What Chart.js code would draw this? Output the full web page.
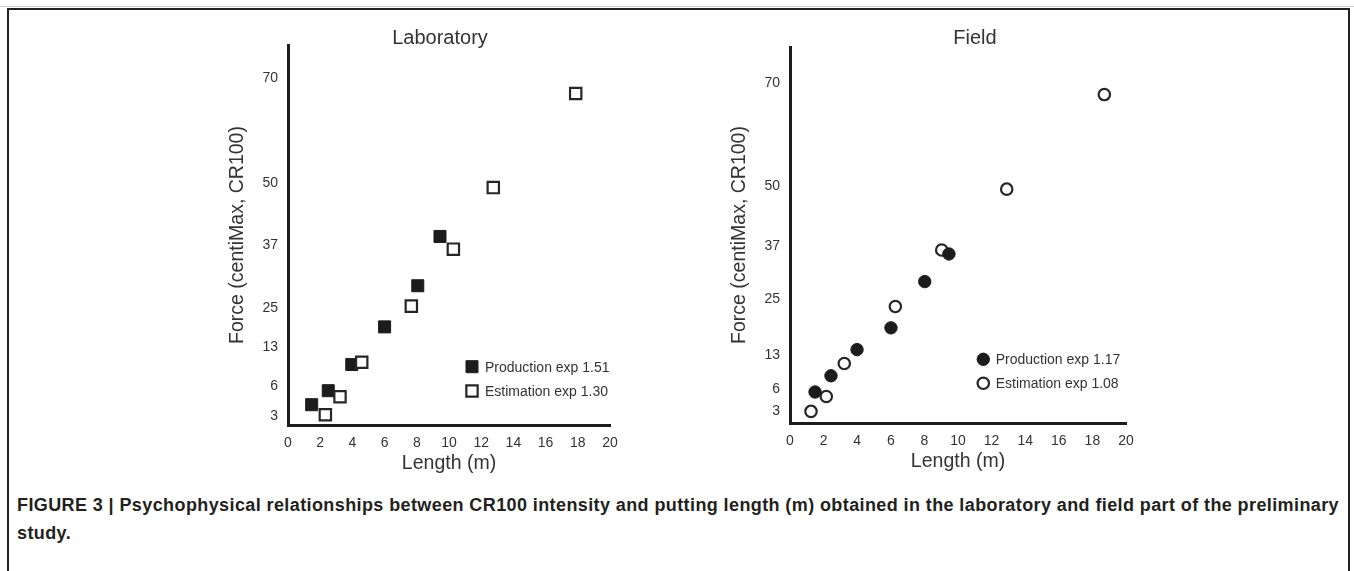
<!DOCTYPE html>
<html>
<head>
<meta charset="utf-8">
<script src="https://cdn.jsdelivr.net/npm/chart.js@4.4.1/dist/chart.umd.min.js"></script>
<style>
  html, body { margin: 0; padding: 0; background: #fff; overflow: hidden; }
  body { width: 1354px; height: 571px; position: relative; font-family: "Liberation Sans", Arial, sans-serif; }
  .rule { position: absolute; left: 0; top: 6px; width: 1354px; height: 1px; background: #d0d0d0; }
  .frame { position: absolute; left: 7px; top: 8px; width: 1339px; height: 620px; border: 2px solid #222; }
  canvas { position: absolute; }
  #lab { left: 180px; top: 15px; }
  #field { left: 682px; top: 15px; }
  .caption { position: absolute; left: 17px; top: 491px; font-weight: bold; font-size: 18px; letter-spacing: 0.4px; line-height: 28px; color: #231f20; white-space: nowrap; }
</style>
</head>
<body>
<div class="rule"></div>
<div class="frame"></div>
<canvas id="lab" width="470" height="470"></canvas>
<canvas id="field" width="484" height="468"></canvas>
<div class="caption">FIGURE 3 | Psychophysical relationships between CR100 intensity and putting length (m) obtained in the laboratory and field part of the preliminary<br>study.</div>
<script>
// tick labels of the force axis (CR100)
const forceTicks = [3, 6, 13, 25, 37, 50, 70];

// Laboratory
const labProdLength = [1.47, 2.5, 3.96, 6.0, 8.06, 9.44];
const labProdForce  = [4.1, 5.5, 9.8, 19.1, 29.2, 38.8];
const labEstLength  = [2.32, 3.23, 4.58, 7.66, 10.27, 12.75, 17.87];
const labEstForce   = [3.1, 4.9, 10.2, 25.3, 36.2, 49.1, 67.1];

// Field
const fieldProdLength = [1.49, 2.44, 3.99, 6.01, 8.02, 9.46];
const fieldProdForce  = [5.6, 8.7, 14.1, 18.8, 29.0, 35.3];
const fieldEstLength  = [1.25, 2.16, 3.23, 6.27, 9.03, 12.9, 18.71];
const fieldEstForce   = [3.0, 5.0, 11.2, 23.4, 36.2, 49.3, 67.8];

const ink = '#1c1c1c';
const textColor = '#333';
const fontFamily = '"Liberation Sans", Arial, sans-serif';

function pts(xs, ys) {
  return xs.map((x, i) => ({x: x, y: ys[i]}));
}

// the CR100 axis in the figure is not evenly spaced: ticks sit at fixed spots
class AnchoredScale extends Chart.LinearScale {
  static id = 'anchored';
  _frac(v) {
    const s = this.options.anchors;
    let i = 1;
    while (i < s.length - 1 && v > s[i][0]) i++;
    const a = s[i - 1], b = s[i];
    return a[1] + (v - a[0]) * (b[1] - a[1]) / (b[0] - a[0]);
  }
  getPixelForValue(v) {
    if (v === null || v === undefined) return NaN;
    return this.getPixelForDecimal(this._frac(v));
  }
  getValueForPixel(p) {
    const d = this.getDecimalForPixel(p);
    const s = this.options.anchors;
    let i = 1;
    while (i < s.length - 1 && d > s[i][1]) i++;
    const a = s[i - 1], b = s[i];
    return a[0] + (d - a[1]) * (b[0] - a[0]) / (b[1] - a[1]);
  }
}
Chart.register(AnchoredScale);

// panel title + legend inside the plot
const panelDecor = {
  id: 'panelDecor',
  afterDraw(chart, args, o) {
    const ctx = chart.ctx, area = chart.chartArea;
    ctx.save();
    ctx.fillStyle = textColor;
    ctx.font = '20px ' + fontFamily;
    ctx.textAlign = 'center';
    ctx.textBaseline = 'alphabetic';
    ctx.fillText(o.title, o.titleX, o.titleY);

    ctx.font = '14px ' + fontFamily;
    ctx.textAlign = 'left';
    ctx.textBaseline = 'middle';
    chart.data.datasets.forEach((ds, i) => {
      const x = area.left + o.legendX;
      const y = area.top + o.legendY + i * o.legendGap;
      ctx.fillStyle = ds.backgroundColor;
      ctx.strokeStyle = ds.borderColor;
      ctx.lineWidth = ds.borderWidth;
      Chart.helpers.drawPoint(ctx, {pointStyle: ds.pointStyle, radius: ds.pointRadius, borderWidth: ds.borderWidth, rotation: 0}, x, y);
      ctx.fillStyle = textColor;
      ctx.fillText(ds.label, x + o.legendTextGap, y + 1);
    });
    ctx.restore();
  }
};

function makeOptions(anchors, yMax, decor) {
  return {
    responsive: false,
    animation: false,
    layout: {padding: {left: 0, top: decor.padTop, right: 40, bottom: 0}},
    plugins: {
      legend: {display: false},
      tooltip: {enabled: false},
      panelDecor: decor
    },
    scales: {
      x: {
        type: 'linear',
        min: 0,
        max: 20,
        grid: {display: false, drawTicks: false},
        border: {color: ink, width: 3},
        ticks: {stepSize: 2, padding: 10, color: textColor, font: {size: 14, family: fontFamily}},
        title: {display: true, text: 'Length (m)', color: textColor, padding: {top: 0, bottom: 10}, font: {size: 19.5, family: fontFamily}},
        afterFit: s => { s.height = 60; }
      },
      y: {
        type: 'anchored',
        anchors: anchors,
        min: 0,
        max: yMax,
        grid: {display: false, drawTicks: false},
        border: {color: ink, width: 3},
        ticks: {padding: 10, color: textColor, font: {size: 14, family: fontFamily}, callback: v => String(v)},
        afterBuildTicks: s => { s.ticks = forceTicks.map(v => ({value: v})); },
        title: {display: true, text: 'Force (centiMax, CR100)', color: textColor, padding: {top: 46, bottom: 0}, font: {size: 19.5, family: fontFamily}},
        afterFit: s => { s.width = 108; }
      }
    }
  };
}

function filled(label, data, style, radius, order) {
  return {label: label, data: data, pointStyle: style, pointRadius: radius, pointHoverRadius: radius,
          backgroundColor: ink, borderColor: ink, borderWidth: 1, order: order};
}
function open(label, data, style, radius, order) {
  return {label: label, data: data, pointStyle: style, pointRadius: radius, pointHoverRadius: radius,
          backgroundColor: '#fff', borderColor: '#262626', borderWidth: 2.2, order: order};
}

new Chart(document.getElementById('lab'), {
  type: 'scatter',
  data: {
    datasets: [
      filled('Production exp 1.51', pts(labProdLength, labProdForce), 'rect', 8.5, 2),
      open('Estimation exp 1.30', pts(labEstLength, labEstForce), 'rect', 8.0, 1)
    ]
  },
  options: makeOptions(
    [[0, 0], [3, 0.0245], [6, 0.1034], [13, 0.206], [25, 0.3087], [37, 0.4737], [50, 0.636], [70, 0.9124], [76.3, 1]],
    76.3,
    {padTop: 30, title: 'Laboratory', titleX: 260, titleY: 28.5, legendX: 184, legendY: 321.7, legendGap: 24.3, legendTextGap: 13}
  ),
  plugins: [panelDecor]
});

new Chart(document.getElementById('field'), {
  type: 'scatter',
  data: {
    datasets: [
      filled('Production exp 1.17', pts(fieldProdLength, fieldProdForce), 'circle', 6.2, 1),
      open('Estimation exp 1.08', pts(fieldEstLength, fieldEstForce), 'circle', 5.7, 2)
    ]
  },
  options: makeOptions(
    [[0, 0], [3, 0.0308], [6, 0.0904], [13, 0.1815], [25, 0.3295], [37, 0.4693], [50, 0.6306], [70, 0.9035], [77.1, 1]],
    77.1,
    {padTop: 32, title: 'Field', titleX: 293, titleY: 28.5, legendX: 193.3, legendY: 312.3, legendGap: 24, legendTextGap: 12.4}
  ),
  plugins: [panelDecor]
});
</script>
</body>
</html>
